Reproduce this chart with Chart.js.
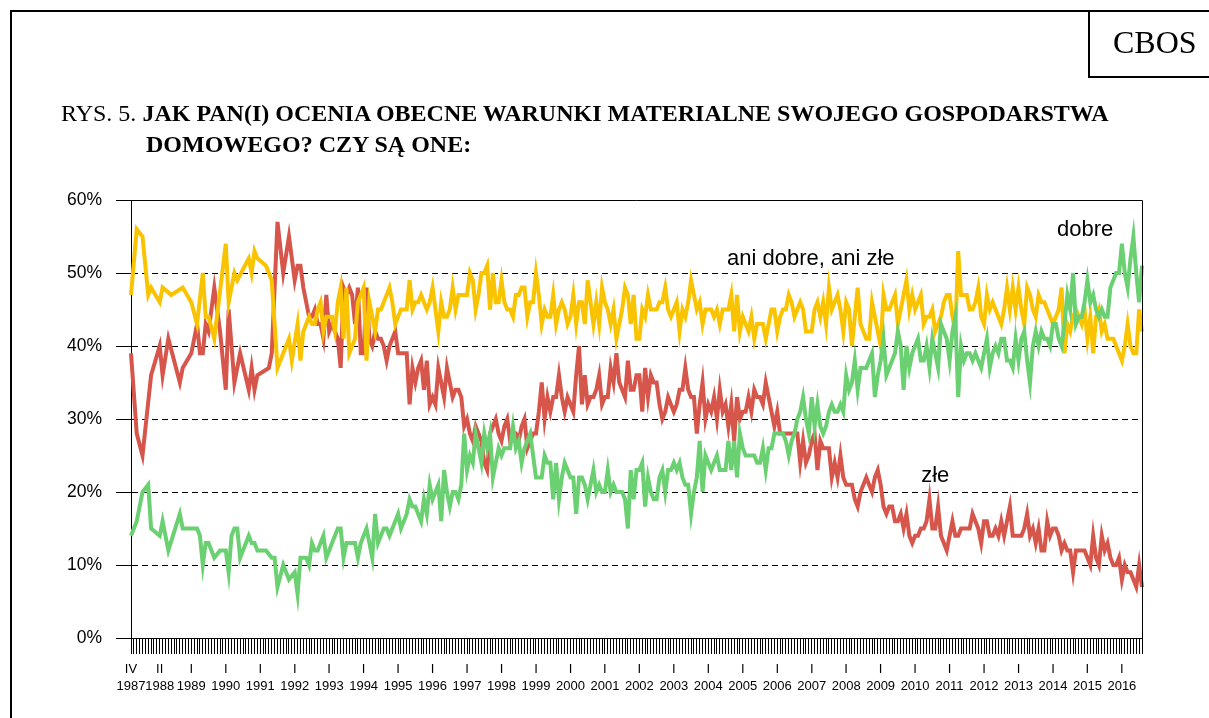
<!DOCTYPE html>
<html lang="pl">
<head>
<meta charset="utf-8">
<title>CBOS – ocena warunków materialnych gospodarstwa domowego</title>
<script src="https://cdn.jsdelivr.net/npm/chart.js@4.4.1/dist/chart.umd.min.js"></script>
<style>
  html, body { margin: 0; padding: 0; background: #fff; }
  #page { position: relative; width: 1209px; height: 718px; overflow: hidden; }
  #chart { position: absolute; left: 0; top: 0; }
  .frame { position: absolute; left: 10px; top: 10px; width: 1300px; height: 800px;
           border-top: 2px solid #000; border-left: 2px solid #000; }
  .logo { position: absolute; left: 1088px; top: 10px; width: 200px; height: 66px;
          border-left: 2px solid #000; border-bottom: 2px solid #000; }
  .logo span { position: absolute; left: 23px; top: 16px;
               font: 32px/32px "Liberation Serif", "Times New Roman", serif; }
  .title { position: absolute; white-space: nowrap; color: #000;
           font: 24px/24px "Liberation Serif", "Times New Roman", serif; }
</style>
</head>
<body>
<div id="page">
  <canvas id="chart" width="1209" height="718"></canvas>
  <div class="frame"></div>
  <div class="logo"><span>CBOS</span></div>
  <div class="title" style="left:61px; top:101px;">RYS. 5. <b>JAK PAN(I) OCENIA OBECNE WARUNKI MATERIALNE SWOJEGO GOSPODARSTWA</b></div>
  <div class="title" style="left:146px; top:132px;"><b>DOMOWEGO? CZY SĄ ONE:</b></div>
</div>
<script>
// survey months, IV 1987 – VIII 2016
const months = [];
for (let y = 1987; y <= 2016; y++) {
  for (let m = 1; m <= 12; m++) {
    if (y === 1987 && m < 4) continue;
    if (y === 2016 && m > 8) break;
    months.push(y + '-' + String(m).padStart(2, '0'));
  }
}

// labelled ticks under the axis
const tickMonths = ['1987-04', '1988-02', '1989-01', '1990-01', '1991-01', '1992-01', '1993-01', '1994-01',
  '1995-01', '1996-01', '1997-01', '1998-01', '1999-01', '2000-01', '2001-01', '2002-01', '2003-01',
  '2004-01', '2005-01', '2006-01', '2007-01', '2008-01', '2009-01', '2010-01', '2011-01', '2012-01',
  '2013-01', '2014-01', '2015-01', '2016-01'];
const tickRoman = ['IV', 'II', 'I', 'I', 'I', 'I', 'I', 'I', 'I', 'I', 'I', 'I', 'I', 'I', 'I', 'I', 'I',
  'I', 'I', 'I', 'I', 'I', 'I', 'I', 'I', 'I', 'I', 'I', 'I', 'I'];
const tickYears = ['1987', '1988', '1989', '1990', '1991', '1992', '1993', '1994', '1995', '1996', '1997',
  '1998', '1999', '2000', '2001', '2002', '2003', '2004', '2005', '2006', '2007', '2008', '2009', '2010',
  '2011', '2012', '2013', '2014', '2015', '2016'];

// "dobre" (%)
const dobre = [
  14, null, 16, null, 20, null, 21, 15, null,                     // 1987
  null, 14, 16, null, 12, null, null, null, 17, 15, null, null,   // 1988
  15, null, 15, 14, 10, 13, 13, null, 11, null, 12, 12,           // 1989
  12, 9, 14, 15, 15, 11, null, null, 14, 13, 13, 12,              // 1990
  null, null, 12, null, 11, 11, 7, null, 10, null, 8, null,       // 1991
  9, 6, 11, 11, 11, 10, 13, 12, 12, 13, 14, 11,                   // 1992
  12, 13, 14, 15, 15, 11, 13, 13, 13, 13, 11, 13,                 // 1993
  14, 15, 13, 11, 17, 13, 14, 15, 15, 14, 15, 16,                 // 1994
  17, 15, 16, 17, 19, 18, 18, 17, 16, 19, 17, 21,                 // 1995
  19, 20, 21, 16, 23, 20, 18, 20, 20, 19, 21, 28,                 // 1996
  23, 25, 24, 28, 26, 24, 28, 26, 28, 22, 24, 26,                 // 1997
  25, 26, 26, 26, 29, 26, 27, 24, 26, 27, 28, 25,                 // 1998
  22, 22, 22, 25, 24, 24, 19, 24, 19, 22, 24, 23,                 // 1999
  22, 22, 17, 22, 22, 21, 19, 21, 23, 20, 21, 20,                 // 2000
  20, 23, 20, 21, 20, 20, 20, 19, 15, 23, 19, 23,                 // 2001
  23, 24, 18, 22, 20, 19, 19, 22, 23, 20, 23, 23,                 // 2002
  24, 23, 24, 22, 21, 21, 17, 20, 22, 27, 20, 25,                 // 2003
  24, 23, 24, 25, 23, 23, 23, 27, 23, 27, 22, 28,                 // 2004
  26, 25, 25, 25, 25, 24, 24, 26, 23, 26, 26, 28,                 // 2005
  28, 28, 28, 27, 25, 27, 28, 30, 31, 33, 30, 28,                 // 2006
  33, 29, 32, 29, 28, 29, 31, 32, 31, 31, 32, 31,                 // 2007
  36, 34, 35, 38, 34, 37, 37, 37, 38, 39, 33, 36,                 // 2008
  38, 41, 36, 37, 38, 39, 42, 40, 34, 40, 37, 39,                 // 2009
  40, 41, 38, 38, 40, 37, 41, 39, 37, 43, 42, 41,                 // 2010
  38, 42, 44, 33, 40, 38, 39, 39, 38, 39, 38, 37,                 // 2011
  39, 41, 37, 39, 40, 39, 41, 41, 38, 38, 37, 41,                 // 2012
  38, 41, 42, 38, 35, 40, 42, 40, 42, 41, 41, 40,                 // 2013
  43, 43, 41, 40, 43, 47, 45, 50, 43, 44, 44, 46,                 // 2014
  49, 46, 47, 45, 44, 45, 44, 44, 48, 49, 50, 50,                 // 2015
  54, 50, 48, 52, 55, 50, 46, 51                                  // 2016
];

// "ani dobre, ani złe" (%)
const aniDobreAniZle = [
  47, null, 56, null, 55, null, 47, 48, null,                     // 1987
  null, 46, 48, null, null, 47, null, null, null, 48, null, null, // 1988
  46, null, 43, null, 50, 44, 44, null, 41, null, null, null,     // 1989
  54, 46, null, 50, 49, null, null, null, 52, 50, 53, 52,         // 1990
  null, null, 51, null, 49, null, 37, null, null, null, 41, 38,   // 1991
  null, 43, 38, 42, 43, 44, 43, 43, 45, 46, 42, 44,               // 1992
  44, 44, 42, 46, 48, 41, 48, 39, 40, 41, 46, 47,                 // 1993
  48, 38, 46, 44, 42, 45, 45, 46, 47, 48, 46, 43,                 // 1994
  44, 45, 45, 45, 49, 45, 46, 46, 47, 46, 45, 46,                 // 1995
  48, 45, 42, 46, 44, 44, 45, 48, 45, 47, 47, 47,                 // 1996
  47, 50, 49, 45, 47, 50, 50, 51, 45, 50, 46, 46,                 // 1997
  49, 46, 45, 45, 44, 47, 47, 48, 48, 44, 46, 46,                 // 1998
  50, 47, 43, 45, 44, 44, 47, 43, 45, 46, 45, 43,                 // 1999
  44, 47, 43, 46, 46, 43, 49, 46, 43, 46, 43, 48,                 // 2000
  46, 45, 43, 45, 41, 43, 45, 48, 47, 43, 47, 41,                 // 2001
  41, 45, 44, 47, 45, 45, 45, 46, 46, 48, 45, 44,                 // 2002
  45, 46, 42, 45, 44, 46, 49, 47, 45, 46, 43, 45,                 // 2003
  45, 45, 44, 45, 43, 45, 45, 45, 47, 42, 47, 42,                 // 2004
  44, 43, 42, 44, 41, 43, 43, 43, 41, 43, 45, 45,                 // 2005
  42, 44, 45, 45, 47, 46, 44, 45, 46, 45, 42, 42,                 // 2006
  42, 45, 46, 44, 46, 43, 48, 45, 46, 47, 45, 42,                 // 2007
  46, 45, 40, 44, 48, 43, 42, 41, 41, 46, 44, 42,                 // 2008
  40, 47, 45, 45, 46, 47, 43, 45, 47, 49, 45, 47,                 // 2009
  45, 46, 47, 43, 44, 44, 45, 42, 43, 44, 46, 47,                 // 2010
  47, 44, 42, 53, 47, 47, 47, 45, 45, 46, 48, 44,                 // 2011
  43, 47, 45, 46, 45, 44, 43, 45, 48, 45, 48, 45,                 // 2012
  48, 45, 43, 48, 47, 45, 44, 47, 46, 46, 45, 44,                 // 2013
  43, 44, 45, 48, 39, 43, 42, 44, 45, 44, 43, 45,                 // 2014
  41, 44, 39, 44, 45, 42, 43, 41, 41, 41, 40, 39,                 // 2015
  38, 40, 43, 40, 39, 39, 45, 42                                  // 2016
];

// "złe" (%)
const zle = [
  39, null, 28, null, 25, null, null, 36, null,                   // 1987
  null, 40, 36, null, 41, null, 38, null, 35, 37, null, null,     // 1988
  39, null, 43, 39, 39, 43, 42, null, 48, null, 42, null,         // 1989
  34, 45, null, 35, null, 39, null, null, 34, 37, 34, 36,         // 1990
  null, null, null, 37, 39, null, 57, null, 50, null, 55, null,   // 1991
  49, 51, 51, 48, 46, 44, 44, 45, 43, 43, 41, 47,                 // 1992
  42, 43, 42, 41, 37, 48, 47, 48, 47, 43, 48, 39,                 // 1993
  39, 48, 41, 40, 42, 41, 41, 40, 38, 40, 41, 42,                 // 1994
  39, 39, 39, 39, 32, 37, 35, 37, 38, 34, 38, 32,                 // 1995
  33, 32, 37, 35, 33, 37, 35, 33, 34, 34, 33, 29,                 // 1996
  30, 28, 27, 29, 28, 27, 24, 23, 28, 29, 30, 28,                 // 1997
  27, 29, 30, 27, 28, 28, 27, 29, 30, 26, 27, 28,                 // 1998
  28, 31, 35, 30, 33, 31, 33, 33, 36, 33, 31, 33,                 // 1999
  32, 31, 36, 40, 32, 36, 32, 33, 33, 34, 36, 32,                 // 2000
  33, 33, 37, 35, 39, 35, 34, 33, 38, 34, 34, 36,                 // 2001
  36, 31, 37, 33, 36, 35, 35, 32, 30, 31, 33, 32,                 // 2002
  31, 32, 34, 34, 37, 34, 33, 33, 28, 32, 35, 30,                 // 2003
  32, 31, 33, 30, 34, 31, 32, 29, 32, 27, 33, 30,                 // 2004
  31, 31, 33, 31, 34, 33, 33, 32, 35, 33, 31, 29,                 // 2005
  31, 28, 28, 28, 28, 28, 28, 28, 24, 27, 24, 25,                 // 2006
  27, 28, 23, 27, 26, 26, 26, 22, 24, 22, 25, 22,                 // 2007
  21, 21, 21, 19, 18, 20, 21, 22, 21, 20, 22, 23,                 // 2008
  21, 18, 17, 18, 18, 16, 16, 17, 15, 17, 14, 13,                 // 2009
  14, 14, 15, 15, 16, 19, 15, 15, 18, 14, 13, 12,                 // 2010
  14, 16, 14, 14, 15, 15, 15, 15, 17, 16, 15, 13,                 // 2011
  16, 16, 14, 14, 15, 14, 16, 14, 16, 18, 14, 14,                 // 2012
  14, 14, 15, 17, 14, 15, 13, 15, 12, 12, 16, 14,                 // 2013
  15, 15, 14, 12, 13, 12, 12, 9, 12, 12, 12, 12,                  // 2014
  11, 10, 14, 11, 10, 14, 12, 13, 11, 10, 10, 11,                 // 2015
  8, 10, 9, 9, 8, 7, 10, 7                                        // 2016
];

// series names written inside the plot (month index, value)
const seriesLabels = [
  { text: 'ani dobre, ani złe', at: 207.5, value: 51.1 },
  { text: 'dobre', at: 322.4, value: 55.1 },
  { text: 'złe', at: 275.1, value: 21.4 }
];

const SANS = '"Liberation Sans", Arial, Helvetica, sans-serif';
Chart.defaults.font.family = SANS;
Chart.defaults.color = '#000';

const tickText = {};
tickMonths.forEach((m, i) => { tickText[m] = [tickRoman[i], tickYears[i]]; });

// top and right frame of the plot + series names
const frameAndLabels = {
  id: 'frameAndLabels',
  afterDatasetsDraw(chart) {
    const { ctx, chartArea: a, scales: { x, y } } = chart;
    ctx.save();
    ctx.strokeStyle = '#000';
    ctx.lineWidth = 1;
    ctx.beginPath();
    ctx.moveTo(a.left, Math.round(a.top) + 0.5);
    ctx.lineTo(Math.round(a.right) + 0.5, Math.round(a.top) + 0.5);
    ctx.lineTo(Math.round(a.right) + 0.5, a.bottom);
    ctx.stroke();
    ctx.fillStyle = '#000';
    ctx.font = '22px ' + SANS;
    ctx.textAlign = 'left';
    ctx.textBaseline = 'alphabetic';
    seriesLabels.forEach(l => ctx.fillText(l.text, x.getPixelForValue(l.at), y.getPixelForValue(l.value)));
    ctx.restore();
  }
};

const lineStyle = { borderWidth: 4, pointRadius: 0, tension: 0, spanGaps: true, fill: false };

new Chart(document.getElementById('chart'), {
  type: 'line',
  data: {
    labels: months,
    datasets: [
      { label: 'dobre', data: dobre, borderColor: '#6ad072', ...lineStyle },
      { label: 'ani dobre, ani złe', data: aniDobreAniZle, borderColor: '#fac300', ...lineStyle },
      { label: 'złe', data: zle, borderColor: '#d6564b', ...lineStyle }
    ]
  },
  options: {
    responsive: false,
    animation: false,
    devicePixelRatio: 1,
    layout: { padding: { top: 200, right: 67, bottom: 0, left: 0 } },
    plugins: { legend: { display: false }, tooltip: { enabled: false } },
    scales: {
      x: {
        grid: { drawOnChartArea: false, drawTicks: true, tickLength: 16, tickColor: '#000', tickWidth: 1 },
        border: { color: '#000', width: 1 },
        ticks: {
          autoSkip: false, maxRotation: 0, minRotation: 0, padding: 7, color: '#000',
          font: { size: 13, lineHeight: 1.32 },
          callback: (v, i) => tickText[months[i]] || ''
        },
        afterFit: s => { s.height = 80; }
      },
      y: {
        min: 0, max: 60,
        grid: {
          color: c => (c.tick && c.tick.value > 0 && c.tick.value < 60) ? '#000' : 'rgba(0,0,0,0)',
          lineWidth: 1, tickColor: '#000', tickLength: 15, tickBorderDash: []
        },
        border: { color: '#000', width: 1, dash: [6, 4] },
        ticks: { stepSize: 10, padding: 14, color: '#000', font: { size: 17.5 }, callback: v => v + '%' },
        afterFit: s => { s.width = 131; }
      }
    }
  },
  plugins: [frameAndLabels]
});
</script>
</body>
</html>
